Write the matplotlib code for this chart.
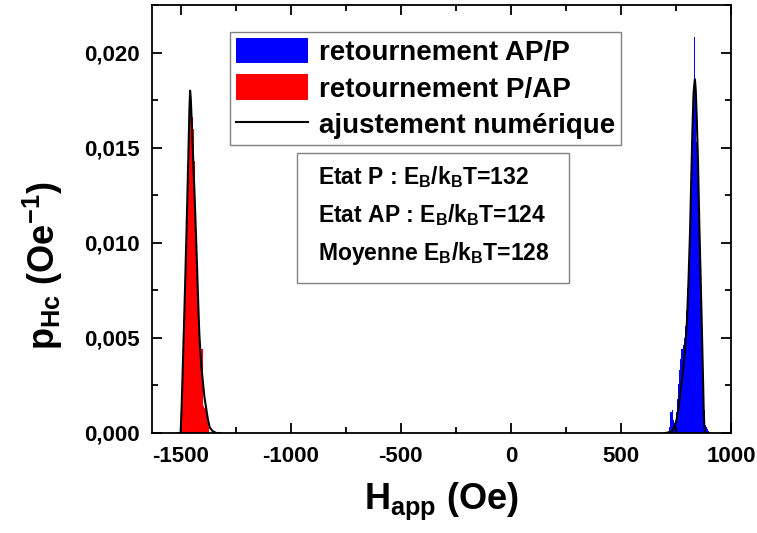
import matplotlib
matplotlib.use("Agg")
import matplotlib.pyplot as plt
from matplotlib.ticker import MultipleLocator, FuncFormatter
from matplotlib.patches import Rectangle

# histogram bins (left edges, Oe) and densities (Oe^-1)
bin_width = 5
red_edges = [-1495, -1490, -1485, -1480, -1475, -1470, -1465, -1460, -1455, -1450,
             -1445, -1440, -1435, -1430, -1425, -1420, -1415, -1410, -1405, -1400,
             -1395, -1390, -1385, -1380, -1375]
red_counts = [0.0020, 0.0042, 0.0062, 0.0084, 0.0106, 0.0130, 0.0155, 0.0180, 0.0172, 0.0166,
              0.0160, 0.0143, 0.0118, 0.0100, 0.0080, 0.0062, 0.0050, 0.0044, 0.0044, 0.0014,
              0.0013, 0.0013, 0.0012, 0.0006, 0.0003]

blue_edges = [715, 720, 725, 730, 735, 740, 745, 750, 755, 760,
              765, 770, 775, 780, 785, 790, 795, 800, 805, 810,
              815, 820, 825, 830, 835, 840, 845, 850, 855, 860,
              865, 870, 875, 880, 885, 890, 895]
blue_counts = [0.0001, 0.0003, 0.0011, 0.0012, 0.0007, 0.0005, 0.0006, 0.0011, 0.0018, 0.0026,
               0.0033, 0.0039, 0.0044, 0.0046, 0.0050, 0.0056, 0.0064, 0.0076, 0.0072, 0.0100,
               0.0118, 0.0150, 0.0170, 0.0208, 0.0184, 0.0153, 0.0160, 0.0138, 0.0112, 0.0086,
               0.0060, 0.0036, 0.0012, 0.0004, 0.0003, 0.0002, 0.0001]

# fitted curves (ajustement numerique)
fit_red_h = [-1510, -1500, -1495, -1490, -1485, -1480, -1475, -1470, -1465, -1460,
             -1457, -1454, -1450, -1445, -1440, -1435, -1427, -1420, -1415, -1410,
             -1405, -1399, -1392, -1384, -1376, -1368, -1355, -1338, -1320]
fit_red_p = [0.0, 0.0, 0.0015, 0.0035, 0.0055, 0.0076, 0.0098, 0.0121, 0.0145, 0.0170,
             0.0180, 0.0176, 0.0165, 0.0150, 0.0135, 0.0120, 0.0093, 0.0068, 0.0052, 0.0042,
             0.0034, 0.0027, 0.0019, 0.0013, 0.0007, 0.0003, 0.0001, 0.0, 0.0]

fit_blue_h = [700, 720, 730, 738, 745, 753, 760, 768, 775, 783,
              790, 794, 800, 807, 814, 820, 825, 830, 836, 840,
              845, 850, 856, 862, 867, 872, 876, 879, 883, 900]
fit_blue_p = [0.0, 0.00003, 0.0001, 0.0002, 0.0004, 0.0007, 0.0012, 0.0019, 0.0026, 0.0034,
              0.0042, 0.0048, 0.0059, 0.0080, 0.0106, 0.0136, 0.0160, 0.0179, 0.0186, 0.0180,
              0.0163, 0.0143, 0.0110, 0.0082, 0.0058, 0.0033, 0.0012, 0.0003, 0.0, 0.0]

x_ticks = [-1500, -1000, -500, 0, 500, 1000]
y_ticks = [0.000, 0.005, 0.010, 0.015, 0.020]

legend_labels = ["retournement AP/P", "retournement P/AP", "ajustement numérique"]
info_lines = [r"Etat P : E$_B$/k$_B$T=132",
              r"Etat AP : E$_B$/k$_B$T=124",
              r"Moyenne E$_B$/k$_B$T=128"]

plt.rcParams['font.family'] = ['Liberation Sans', 'DejaVu Sans']
plt.rcParams['font.weight'] = 'bold'
plt.rcParams['axes.labelweight'] = 'bold'
plt.rcParams['mathtext.fontset'] = 'custom'
plt.rcParams['mathtext.rm'] = 'Liberation Sans:bold'
plt.rcParams['mathtext.it'] = 'Liberation Sans:bold'
plt.rcParams['mathtext.bf'] = 'Liberation Sans:bold'
plt.rcParams['axes.unicode_minus'] = False

fig = plt.figure(figsize=(7.57, 5.33), dpi=100)
ax = fig.add_axes([152 / 757, 1 - 433 / 533, (731 - 152) / 757, (433 - 5) / 533])

b_blue = ax.bar(blue_edges, blue_counts, width=bin_width, align='edge', color='blue', linewidth=0)
b_red = ax.bar(red_edges, red_counts, width=bin_width, align='edge', color='red', linewidth=0)
l_fit, = ax.plot(fit_red_h, fit_red_p, color='black', lw=1.5)
ax.plot(fit_blue_h, fit_blue_p, color='black', lw=1.5)

ax.set_xlim(-1630, 1000)
ax.set_ylim(0, 0.0225)
ax.set_xticks(x_ticks)
ax.set_yticks(y_ticks)
ax.xaxis.set_minor_locator(MultipleLocator(250))
ax.yaxis.set_minor_locator(MultipleLocator(0.0025))
ax.yaxis.set_major_formatter(FuncFormatter(lambda v, p: f"{v:.3f}".replace('.', ',')))
ax.xaxis.set_major_formatter(FuncFormatter(lambda v, p: f"{int(round(v))}"))
ax.tick_params(which='both', direction='in', top=True, right=True, width=1.3)
ax.tick_params(which='major', length=7, labelsize=16, pad=9)
ax.tick_params(which='minor', length=4)
for sp in ax.spines.values():
    sp.set_linewidth(1.3)

ax.set_xlabel(r"H$_{app}$ (Oe)", fontsize=26, fontweight='bold', labelpad=10)
ax.set_ylabel(r"p$_{Hc}$ (Oe$^{-1}$)", fontsize=26, fontweight='bold')
ax.yaxis.set_label_coords(-0.15, 0.39)

leg = ax.legend([b_blue, b_red, l_fit], legend_labels, loc='upper left',
                bbox_to_anchor=(230 / 757, 1 - 32 / 533), bbox_transform=fig.transFigure,
                fontsize=20, fancybox=False, framealpha=1, edgecolor='#808080',
                handlelength=2.6, handleheight=1.05, labelspacing=0.3,
                handletextpad=0.4, borderpad=0.2, borderaxespad=0)
leg.get_frame().set_linewidth(1.0)

fig.patches.append(Rectangle((297 / 757, 1 - 283 / 533), (569 - 297) / 757, (283 - 153) / 533,
                             transform=fig.transFigure, fill=False, edgecolor='#808080', lw=1.0))
for i, s in enumerate(info_lines):
    fig.text(318 / 757, 1 - (177 + 38 * i) / 533, s, fontsize=16.5, va='center', ha='left')

plt.savefig("out.png", dpi=100)
